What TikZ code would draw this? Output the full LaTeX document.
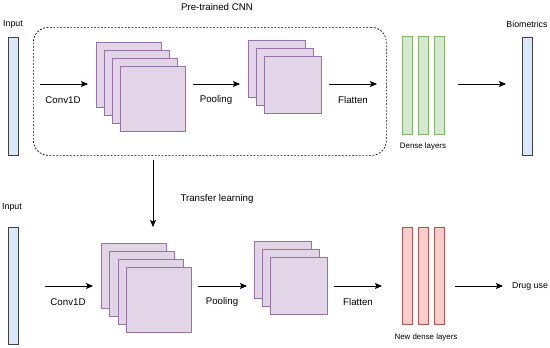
\documentclass[tikz,border=0pt]{standalone}
\usepackage{fontspec}
\setmainfont{Liberation Sans}
\usetikzlibrary{arrows.meta}
\definecolor{purF}{HTML}{E1D5E7}
\definecolor{purD}{HTML}{9673A6}
\definecolor{bluF}{HTML}{DAE8FC}
\definecolor{bluD}{HTML}{6C8EBF}
\definecolor{grnF}{HTML}{D5E8D4}
\definecolor{grnD}{HTML}{82B366}
\definecolor{redF}{HTML}{F8CECC}
\definecolor{redD}{HTML}{B85450}
\begin{document}
\begin{tikzpicture}[x=1pt,y=-1pt,
  base/.style={draw, line width=0.8pt, inner sep=0pt, anchor=north west},
  sqbig/.style={base, draw=purD, fill=purF, minimum width=65pt, minimum height=65pt},
  sqsmall/.style={base, draw=purD, fill=purF, minimum width=57pt, minimum height=57pt},
  inbar/.style={base, draw=black!75, fill=bluF, minimum width=10pt, minimum height=#1},
  gbar/.style={base, draw=grnD, fill=grnF, minimum width=10pt, minimum height=98pt},
  rbar/.style={base, draw=redD, fill=redF, minimum width=10pt, minimum height=97pt},
  cnnframe/.style={draw, dash pattern=on 1.8pt off 1.6pt, line width=0.7pt, rounded corners=15pt,
    inner sep=0pt, anchor=north west, minimum width=353pt, minimum height=128pt},
  arr/.style={-{Stealth[length=7pt,width=6pt,inset=1.5pt]}, line width=0.7pt},
  lbl/.style={font=\fontsize{9.7}{11}\selectfont, inner sep=0pt},
  slbl/.style={font=\fontsize{8.8}{10}\selectfont, inner sep=0pt},
  tlbl/.style={font=\fontsize{7.9}{9}\selectfont, inner sep=0pt}]
\useasboundingbox (0,0) rectangle (550,348);

% ---------- top row ----------
\node[slbl] (inTopL) at (13,24) {Input};
\node[inbar=118pt] (inTop) at (8,37) {};
\node[lbl] (ptcnn) at (217,7) {Pre-trained CNN};
\node[cnnframe] (cnn) at (33,27) {};

\coordinate (c1s) at (40,84); \coordinate (c1e) at (88,84);
\draw[arr] (c1s) -- (c1e);
\node[lbl] (c1l) at (63,100) {Conv1D};

\node[sqbig] (a1) at (96,42) {};
\node[sqbig] (a2) at (104,50) {};
\node[sqbig] (a3) at (112,58) {};
\node[sqbig] (a4) at (120,66) {};

\coordinate (p1s) at (193,84); \coordinate (p1e) at (240,84);
\draw[arr] (p1s) -- (p1e);
\node[lbl] (p1l) at (216,100) {Pooling};

\node[sqsmall] (b1) at (248,40) {};
\node[sqsmall] (b2) at (256,48) {};
\node[sqsmall] (b3) at (264,56) {};

\coordinate (f1s) at (329,84); \coordinate (f1e) at (377,84);
\draw[arr] (f1s) -- (f1e);
\node[lbl] (f1l) at (353,100) {Flatten};

\node[gbar] (g1) at (402,36) {};
\node[gbar] (g2) at (418,36) {};
\node[gbar] (g3) at (434,36) {};
\node[tlbl] (gl) at (423,146) {Dense layers};

\coordinate (o1s) at (458,84); \coordinate (o1e) at (506,84);
\draw[arr] (o1s) -- (o1e);

\node[slbl] (bioL) at (527,24) {Biometrics};
\node[inbar=118pt] (bio) at (522,37) {};

% ---------- transfer ----------
\coordinate (te) at (153,227);
\draw[arr] ([yshift=-4pt]cnn.south -| te) -- (te);
\node[lbl] (tl) at (217,199) {Transfer learning};

% ---------- bottom row ----------
\node[slbl] (inBotL) at (12,207) {Input};
\node[inbar=117pt] (inBot) at (8,227) {};

\coordinate (c2s) at (45,286); \coordinate (c2e) at (93,286);
\draw[arr] (c2s) -- (c2e);
\node[lbl] (c2l) at (68,302) {Conv1D};

\node[sqbig] (d1) at (101,243) {};
\node[sqbig] (d2) at (109.3,251) {};
\node[sqbig] (d3) at (117.6,259) {};
\node[sqbig] (d4) at (126,267) {};

\coordinate (p2s) at (198,286); \coordinate (p2e) at (247,286);
\draw[arr] (p2s) -- (p2e);
\node[lbl] (p2l) at (222,302) {Pooling};

\node[sqsmall] (e1) at (254,241) {};
\node[sqsmall] (e2) at (262,249) {};
\node[sqsmall] (e3) at (270,257) {};

\coordinate (f2s) at (334,286); \coordinate (f2e) at (382,286);
\draw[arr] (f2s) -- (f2e);
\node[lbl] (f2l) at (358,302) {Flatten};

\node[rbar] (r1) at (402,227) {};
\node[rbar] (r2) at (418,227) {};
\node[rbar] (r3) at (434,227) {};
\node[tlbl] (rl) at (426,337) {New dense layers};

\coordinate (o2s) at (455,286); \coordinate (o2e) at (503,286);
\draw[arr] (o2s) -- (o2e);
\node[slbl, anchor=west] (drug) at (512,286) {Drug use};
\end{tikzpicture}
\end{document}
